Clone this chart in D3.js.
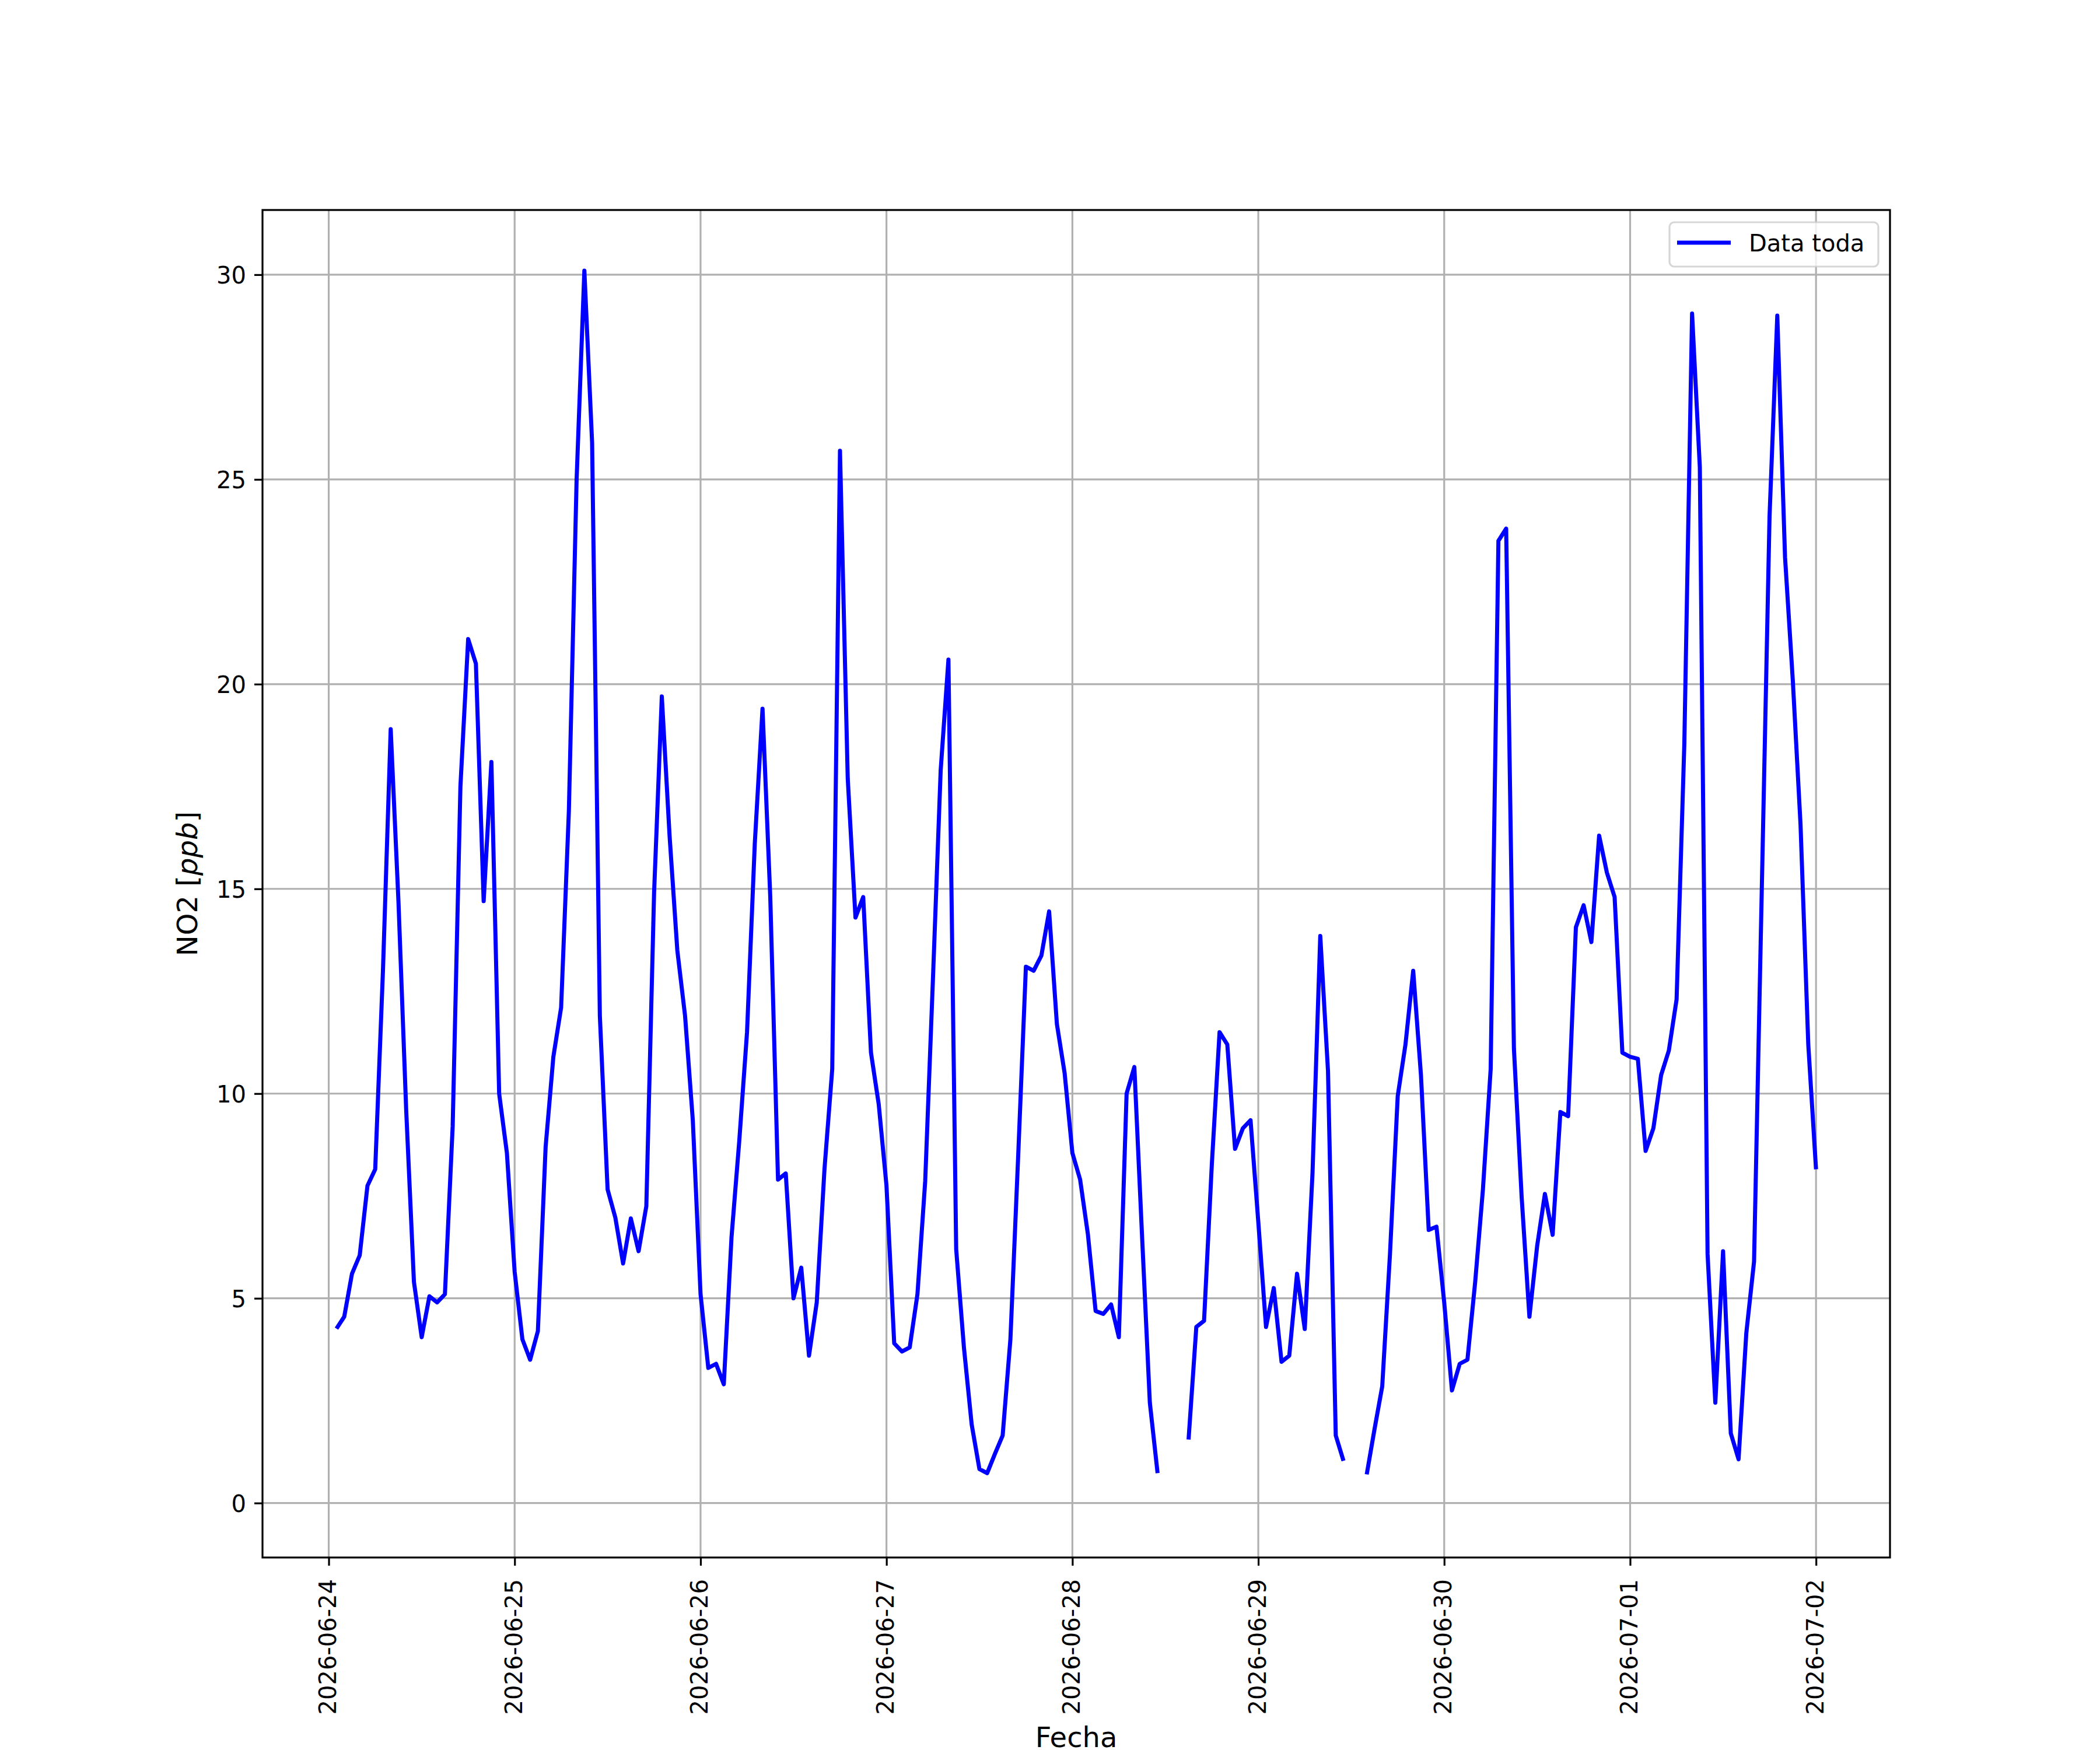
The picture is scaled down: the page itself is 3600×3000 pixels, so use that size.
<!DOCTYPE html>
<html>
<head>
<meta charset="utf-8">
<script src="https://cdn.jsdelivr.net/npm/d3@7"></script>
<style>
  html, body { margin: 0; padding: 0; background: #ffffff; }
  svg { display: block; }
  text { font-family: "DejaVu Sans", sans-serif; fill: #000; }
</style>
</head>
<body>
<svg id="chart" width="3600" height="3000"></svg>
<script>
// ---- data (hourly NO2 values, first value at 2026-06-24 01:00 UTC) ----
const startHour = Date.UTC(2026, 5, 24, 1, 0, 0);
const no2Values = [
  4.26, 4.55, 5.6, 6.05, 7.75, 8.15, 13.0, 18.9, 14.7, 9.6, 5.4, 4.05,
  5.05, 4.9, 5.1, 9.2, 17.5, 21.1, 20.5, 14.7, 18.1, 10.0, 8.55, 5.65,
  4.0, 3.5, 4.2, 8.7, 10.9, 12.1, 16.9, 25.0, 30.1, 25.9, 11.9, 7.66,
  6.97, 5.85, 6.95, 6.15, 7.25, 14.9, 19.7, 16.3, 13.5, 11.9, 9.35, 5.1,
  3.3, 3.4, 2.9, 6.5, 8.85, 11.5, 16.1, 19.4, 14.8, 7.9, 8.05, 5.0,
  5.75, 3.6, 4.9, 8.16, 10.6, 25.7, 17.7, 14.3, 14.8, 11.0, 9.74, 7.76,
  3.9, 3.7, 3.8, 5.1, 7.86, 12.8, 17.9, 20.6, 6.2, 3.8, 1.92, 0.83,
  0.73, 1.2, 1.65, 4.0, 8.46, 13.1, 13.0, 13.37, 14.45, 11.7, 10.5, 8.55,
  7.9, 6.57, 4.69, 4.62, 4.85, 4.05, 10.0, 10.65, 6.5, 2.45, 0.73, null,
  null, null, 1.55, 4.3, 4.45, 8.26, 11.5, 11.2, 8.65, 9.15, 9.35, 6.87,
  4.3, 5.25, 3.45, 3.6, 5.6, 4.25, 8.06, 13.85, 10.55, 1.65, 1.03, null,
  null, 0.7, 1.8, 2.85, 6.08, 9.94, 11.2, 13.0, 10.45, 6.67, 6.75, 4.9,
  2.75, 3.4, 3.5, 5.4, 7.66, 10.6, 23.5, 23.8, 11.1, 7.47, 4.55, 6.28,
  7.55, 6.55, 9.55, 9.45, 14.06, 14.6, 13.7, 16.3, 15.4, 14.8, 11.0, 10.9,
  10.85, 8.6, 9.15, 10.45, 11.05, 12.3, 18.55, 29.05, 25.3, 6.08, 2.45, 6.15,
  1.7, 1.07, 4.15, 5.9, 15.0, 24.1, 29.0, 23.1, 20.1, 16.57, 11.2, 8.15
];
const xTickLabels = ["2026-06-24","2026-06-25","2026-06-26","2026-06-27","2026-06-28",
                     "2026-06-29","2026-06-30","2026-07-01","2026-07-02"];
const yTickValues = [0, 5, 10, 15, 20, 25, 30];
const yLimits = [-1.33, 31.58];
const seriesName = "Data toda";
const xLabel = "Fecha";

// ---- build ----
const HOUR = 3600 * 1000;
const data = no2Values.map((v, i) => ({ t: new Date(startHour + i * HOUR), v: v }));

const L = 450, R = 3240, T = 360, B = 2670;
const svg = d3.select("#chart");

const tMin = data[0].t.getTime(), tMax = data[data.length - 1].t.getTime();
const pad = (tMax - tMin) * 0.05;
const x = d3.scaleUtc().domain([new Date(tMin - pad), new Date(tMax + pad)]).range([L, R]);
const y = d3.scaleLinear().domain(yLimits).range([B, T]);

const xTicks = xTickLabels.map(s => new Date(s + "T00:00:00Z"));
const GRID = "#b0b0b0";

// grid
const grid = svg.append("g");
grid.selectAll("line.gx").data(xTicks).enter().append("line")
  .attr("x1", d => x(d)).attr("x2", d => x(d)).attr("y1", T).attr("y2", B)
  .attr("stroke", GRID).attr("stroke-width", 3.2);
grid.selectAll("line.gy").data(yTickValues).enter().append("line")
  .attr("x1", L).attr("x2", R).attr("y1", d => y(d)).attr("y2", d => y(d))
  .attr("stroke", GRID).attr("stroke-width", 3.2);

// clip
svg.append("clipPath").attr("id", "clip").append("rect")
  .attr("x", L).attr("y", T).attr("width", R - L).attr("height", B - T);

// line
const line = d3.line().defined(d => d.v != null).x(d => x(d.t)).y(d => y(d.v));
svg.append("path").datum(data)
  .attr("clip-path", "url(#clip)")
  .attr("d", line).attr("fill", "none").attr("stroke", "#0000ff")
  .attr("stroke-width", 7).attr("stroke-linejoin", "round").attr("stroke-linecap", "butt");

// axes via d3 axis generators
const xAxis = d3.axisBottom(x).tickValues(xTicks).tickSize(14).tickPadding(0)
  .tickFormat((d, i) => xTickLabels[i]);
const gx = svg.append("g").attr("transform", `translate(0,${B})`).call(xAxis);
gx.select(".domain").remove();
gx.selectAll(".tick line").attr("stroke", "#000").attr("stroke-width", 3.2);
gx.selectAll(".tick text")
  .attr("font-size", 40).attr("font-family", "DejaVu Sans")
  .attr("text-anchor", "end").attr("dy", null).attr("y", null).attr("x", null)
  .attr("transform", "translate(12,37) rotate(-90)");

const yAxis = d3.axisLeft(y).tickValues(yTickValues).tickSize(14).tickPadding(14)
  .tickFormat(d3.format("d"));
const gy = svg.append("g").attr("transform", `translate(${L},0)`).call(yAxis);
gy.select(".domain").remove();
gy.selectAll(".tick line").attr("stroke", "#000").attr("stroke-width", 3.2);
gy.selectAll(".tick text").attr("font-size", 40).attr("font-family", "DejaVu Sans")
  .attr("dy", "0.36em");

// spines
svg.append("rect").attr("x", L).attr("y", T).attr("width", R - L).attr("height", B - T)
  .attr("fill", "none").attr("stroke", "#000").attr("stroke-width", 3.2);

// axis labels
svg.append("text").attr("x", (L + R) / 2).attr("y", 2995)
  .attr("text-anchor", "middle").attr("font-size", 48).text(xLabel);

const yl = svg.append("text")
  .attr("transform", `translate(338,${(T + B) / 2}) rotate(-90)`)
  .attr("text-anchor", "middle").attr("font-size", 48);
yl.append("tspan").text("NO2 [");
yl.append("tspan").attr("font-style", "italic").text("ppb");
yl.append("tspan").text("]");

// legend
const lg = svg.append("g");
lg.append("rect").attr("x", 2862).attr("y", 381).attr("width", 358).attr("height", 76)
  .attr("rx", 8).attr("ry", 8)
  .attr("fill", "#ffffff").attr("fill-opacity", 0.8)
  .attr("stroke", "#cccccc").attr("stroke-opacity", 0.8).attr("stroke-width", 3.2);
lg.append("line").attr("x1", 2875).attr("x2", 2967).attr("y1", 416).attr("y2", 416)
  .attr("stroke", "#0000ff").attr("stroke-width", 7);
lg.append("text").attr("x", 2998).attr("y", 431).attr("font-size", 40).text(seriesName);
</script>
</body>
</html>
